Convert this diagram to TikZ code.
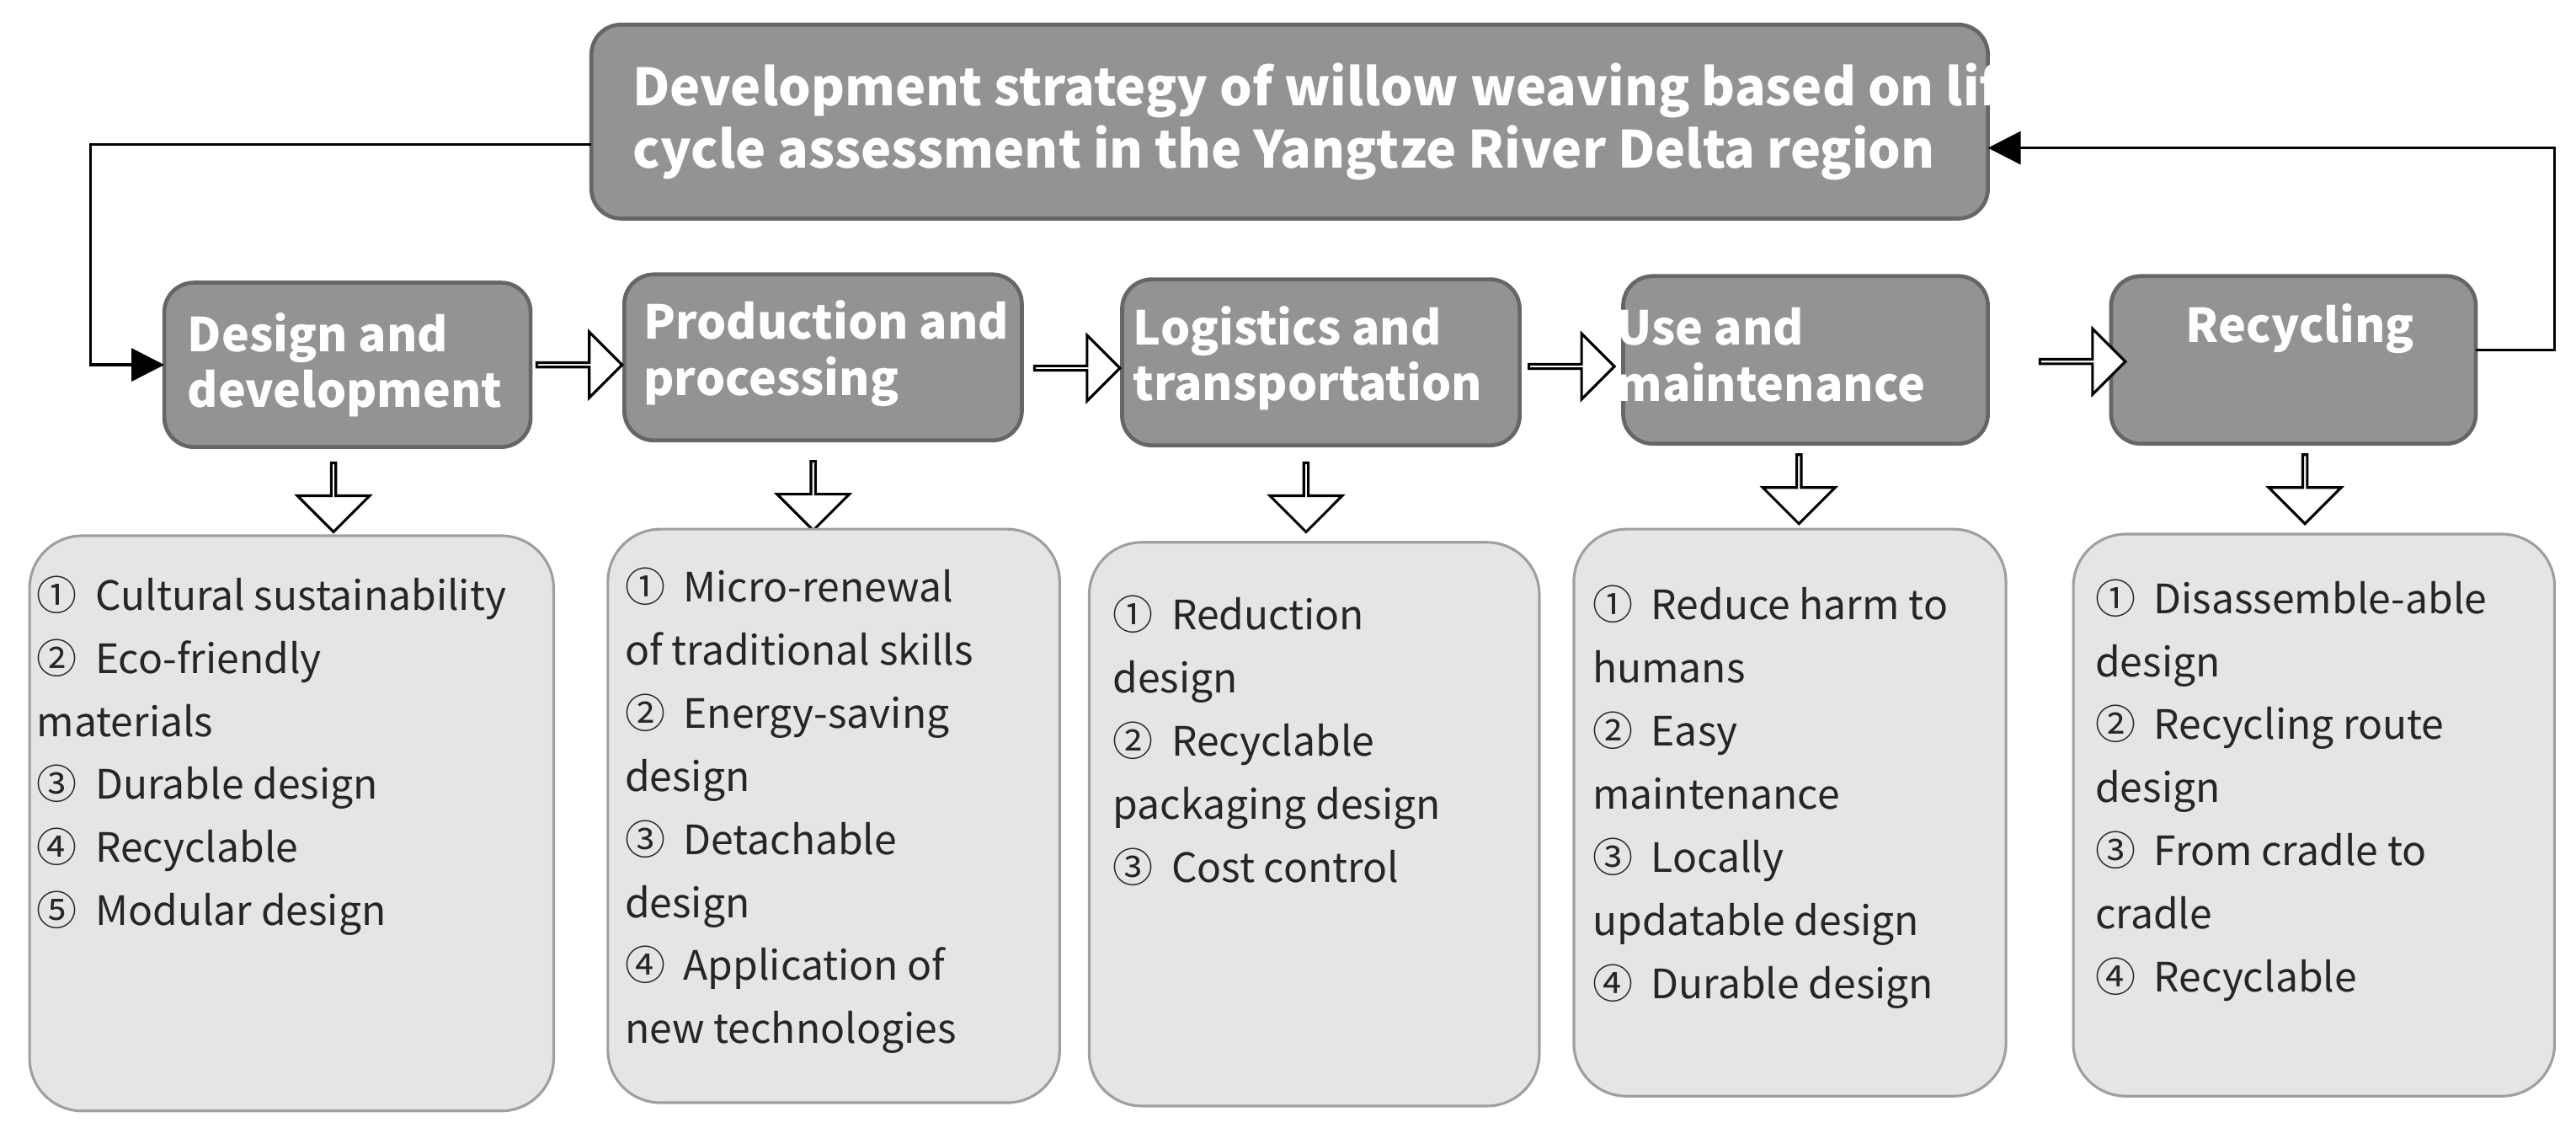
\documentclass[tikz,border=0pt]{standalone}
\usepackage{fontspec}
\setmainfont{Noto Sans CJK SC}
\usetikzlibrary{arrows.meta,shapes.arrows}
\begin{document}
\begin{tikzpicture}[x=0.5pt,y=-0.5pt,
  dark/.style={draw=gray!80!black,line width=1.2pt,fill=gray!85,rounded corners=9pt,text=white,font=\fontsize{14.2}{17}\selectfont\bfseries,align=left,inner sep=0pt},
  light/.style={draw=gray!75,line width=0.8pt,fill=gray!20,rounded corners=16pt},
  txt/.style={anchor=north west,align=left,font=\fontsize{12.3}{19.2}\selectfont,inner sep=0pt,text=black!85},
  harr/.style={single arrow,draw=black,fill=white,line width=0.8pt,single arrow head extend=5.5pt,minimum height=26pt,minimum width=20pt,inner sep=0pt},
  varr/.style={single arrow,draw=black,fill=white,line width=0.8pt,shape border rotate=270,single arrow head extend=6pt,minimum height=21pt,minimum width=22pt,inner sep=0pt},
  fb/.style={line width=0.9pt,-{Triangle[length=10pt,width=10pt]}}]
\useasboundingbox (0,0) rectangle (1568,689);
% top box
\draw[dark] (360,15) rectangle (1210,133);
\node[dark,draw=none,fill=none,anchor=west,font=\fontsize{15.6}{19}\selectfont\bfseries] (top) at (384,74) {Development strategy of willow weaving based on life\\cycle assessment in the Yangtze River Delta region};
\coordinate (tl) at (360,88); \coordinate (tr) at (1210,90);
% stage boxes
\draw[dark] (100,172) rectangle (323,272); \node[dark,draw=none,fill=none] (b1) at (210,222) {Design and\\development};
\draw[dark] (380,167) rectangle (622,268); \node[dark,draw=none,fill=none] (b2) at (503,215) {Production and\\processing};
\draw[dark] (683,170) rectangle (925,271); \node[dark,draw=none,fill=none] (b3) at (796,218) {Logistics and\\transportation};
\draw[dark] (988,168) rectangle (1210,270); \node[dark,draw=none,fill=none] (b4) at (1078,216) {Use and\\maintenance};
\draw[dark] (1285,168) rectangle (1507,270); \node[dark,draw=none,fill=none] (b5) at (1400,200) {Recycling};
% horizontal hollow arrows
\node[harr] (h1) at (352,222) {};
\node[harr] (h2) at (655,224) {};
\node[harr] (h3) at (956,223) {};
\node[harr] (h4) at (1267,220) {};
% vertical hollow arrows
\node[varr] (v1) at (203,302) {};
\node[varr] (v2) at (495,301) {};
\node[varr] (v3) at (795,302) {};
\node[varr] (v4) at (1095,297) {};
\node[varr] (v5) at (1403,297) {};
% bottom boxes
\draw[light] (18,326) rectangle (337,676);
\node[txt] (c1) at (22,350) {①\ \ Cultural sustainability\\②\ \ Eco-friendly\\materials\\③\ \ Durable design\\④\ \ Recyclable\\⑤\ \ Modular design};
\draw[light] (370,322) rectangle (645,671);
\node[txt] (c2) at (380,345) {①\ \ Micro-renewal\\of traditional skills\\②\ \ Energy-saving\\design\\③\ \ Detachable\\design\\④\ \ Application of\\new technologies};
\draw[light] (663,330) rectangle (937,673);
\node[txt] (c3) at (677,362) {①\ \ Reduction\\design\\②\ \ Recyclable\\packaging design\\③\ \ Cost control};
\draw[light] (958,322) rectangle (1221,667);
\node[txt] (c4) at (969,356) {①\ \ Reduce harm to\\humans\\②\ \ Easy\\maintenance\\③\ \ Locally\\updatable design\\④\ \ Durable design};
\draw[light] (1262,325) rectangle (1555,667);
\node[txt] (c5) at (1275,352) {①\ \ Disassemble-able\\design\\②\ \ Recycling route\\design\\③\ \ From cradle to\\cradle\\④\ \ Recyclable};
% feedback connectors
\coordinate (b1w) at (100,222); \coordinate (b5e) at (1507,213);
\draw[fb] (tl) -- (55,88) -- (55,222) -- (b1w);
\draw[fb] (b5e) -- (1555,213) -- (1555,90) -- (tr);
\end{tikzpicture}
\end{document}
